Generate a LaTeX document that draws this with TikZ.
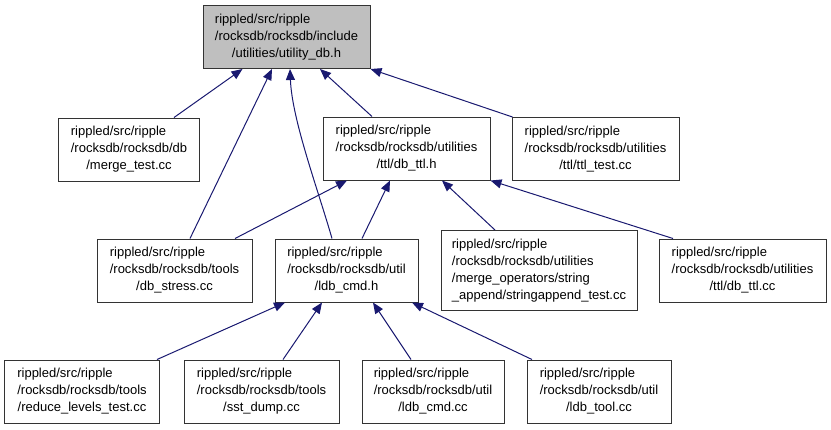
\documentclass[tikz,border=0pt]{standalone}
\usepackage{fontspec}
\setmainfont{Liberation Sans}
\usepackage{tikz}
\usetikzlibrary{arrows.meta}
\definecolor{edgeblue}{HTML}{191970}
\definecolor{rootgray}{HTML}{BFBFBF}
\newcommand{\fpath}[2]{\begin{tabular}{@{}l@{}}#1\\\multicolumn{1}{@{}c@{}}{#2}\end{tabular}}

\begin{document}
\begin{tikzpicture}[x=1bp,y=-1bp]
            \tikzstyle{file}=[rectangle, draw=black!80, line width=1bp, inner xsep=0pt, inner ysep=6bp, font=\fontsize{13.05}{17.06}\selectfont]
            \tikzstyle{connect}=[draw=edgeblue, line width=1bp, -{Triangle[length=11bp,width=9bp]}]
            \useasboundingbox (0,0) rectangle (831,429);
            \node[file, fill=rootgray, minimum width=167bp] (root) at (286.5,37) {\fpath{rippled/src/ripple\\/rocksdb/rocksdb/include}{/utilities/utility\_db.h}};
            \node[file, minimum width=140bp] (merge) at (129,149.5) {\fpath{rippled/src/ripple\\/rocksdb/rocksdb/db}{/merge\_test.cc}};
            \node[file, minimum width=167bp] (dbttlh) at (406.5,148.5) {\fpath{rippled/src/ripple\\/rocksdb/rocksdb/utilities}{/ttl/db\_ttl.h}};
            \node[file, minimum width=167bp] (ttltest) at (595.5,149) {\fpath{rippled/src/ripple\\/rocksdb/rocksdb/utilities}{/ttl/ttl\_test.cc}};
            \node[file, minimum width=155bp] (dbstress) at (174.5,270.5) {\fpath{rippled/src/ripple\\/rocksdb/rocksdb/tools}{/db\_stress.cc}};
            \node[file, minimum width=143bp] (ldbh) at (346.5,270.5) {\fpath{rippled/src/ripple\\/rocksdb/rocksdb/util}{/ldb\_cmd.h}};
            \node[file, minimum width=196bp] (strapp) at (539,270.5) {\fpath{rippled/src/ripple\\/rocksdb/rocksdb/utilities\\/merge\_operators/string}{\_append/stringappend\_test.cc}};
            \node[file, minimum width=167bp] (dbttlcc) at (742.5,270.5) {\fpath{rippled/src/ripple\\/rocksdb/rocksdb/utilities}{/ttl/db\_ttl.cc}};
            \node[file, minimum width=154bp] (reduce) at (82,391.5) {\fpath{rippled/src/ripple\\/rocksdb/rocksdb/tools}{/reduce\_levels\_test.cc}};
            \node[file, minimum width=155bp] (sst) at (261.5,391.5) {\fpath{rippled/src/ripple\\/rocksdb/rocksdb/tools}{/sst\_dump.cc}};
            \node[file, minimum width=142bp] (ldbcc) at (433,391.5) {\fpath{rippled/src/ripple\\/rocksdb/rocksdb/util}{/ldb\_cmd.cc}};
            \node[file, minimum width=144bp] (ldbtool) at (599,391.5) {\fpath{rippled/src/ripple\\/rocksdb/rocksdb/util}{/ldb\_tool.cc}};
            \path[-] ([xshift=45bp]merge.north) edge [connect] ([xshift=-44bp]root.south);
            \path[-] ([xshift=15.5bp]dbstress.north) edge [connect] ([xshift=-14.5bp]root.south);
            \draw[connect] ([xshift=-14.5bp]ldbh.north) .. controls +(-14,-49) and +(2,51) .. ([xshift=3.5bp]root.south);
            \path[-] ([xshift=-34.5bp]dbttlh.north) edge [connect] ([xshift=33.5bp]root.south);
            \path[-] ([xshift=-83bp]ttltest.north) edge [connect] (root.south east);
            \path[-] ([xshift=60.5bp]dbstress.north) edge [connect] ([xshift=-59.5bp]dbttlh.south);
            \path[-] ([xshift=15.5bp]ldbh.north) edge [connect] ([xshift=-16.5bp]dbttlh.south);
            \path[-] ([xshift=-44bp]strapp.north) edge [connect] ([xshift=35.5bp]dbttlh.south);
            \path[-] ([xshift=-69.5bp]dbttlcc.north) edge [connect] (dbttlh.south east);
            \path[-] ([xshift=75bp]reduce.north) edge [connect] ([xshift=-61.5bp]ldbh.south);
            \path[-] ([xshift=21.5bp]sst.north) edge [connect] ([xshift=-24.5bp]ldbh.south);
            \path[-] ([xshift=-22bp]ldbcc.north) edge [connect] ([xshift=26.5bp]ldbh.south);
            \path[-] ([xshift=-67bp]ldbtool.north) edge [connect] ([xshift=65.5bp]ldbh.south);
        \end{tikzpicture}
\end{document}
